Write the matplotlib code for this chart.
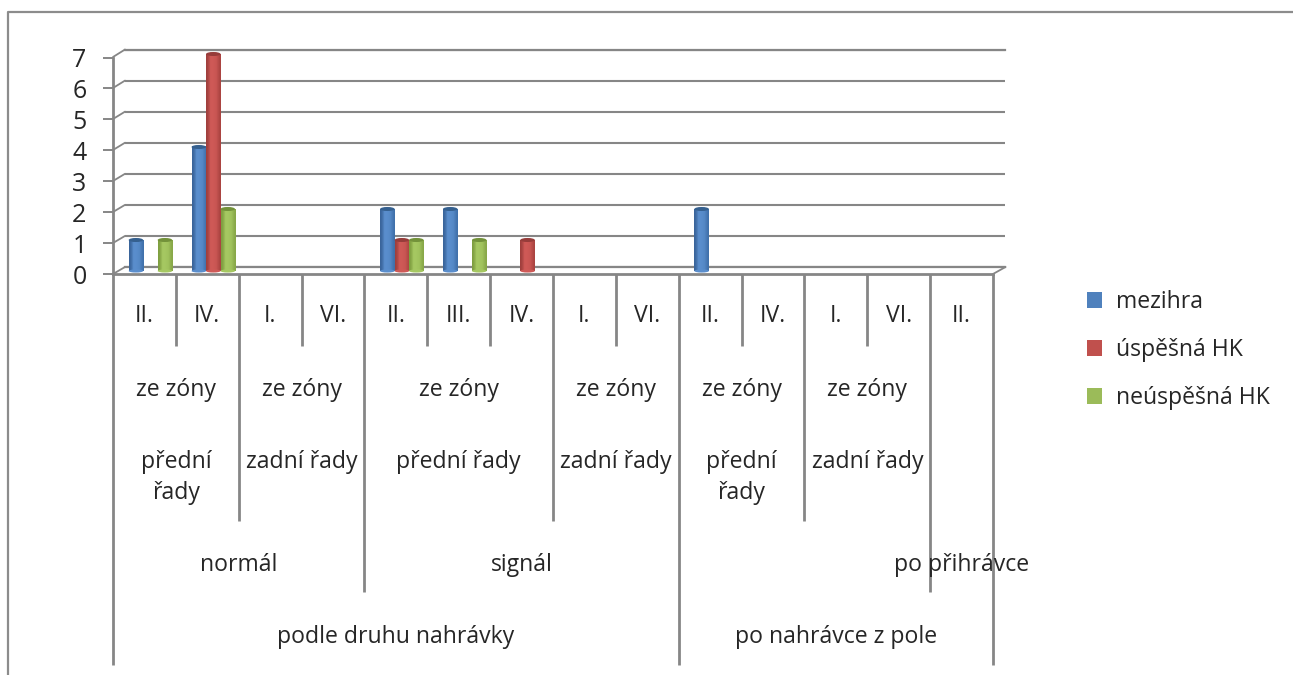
import matplotlib
matplotlib.use("Agg")
import matplotlib.pyplot as plt
from matplotlib.colors import LinearSegmentedColormap
from matplotlib.patches import Ellipse
import numpy as np

W, H = 1293, 675

plt.rcParams['font.family'] = ['Open Sans', 'DejaVu Sans']

# data
zones = ["II.", "IV.", "I.", "VI.", "II.", "III.", "IV.", "I.", "VI.", "II.", "IV.", "I.", "VI.", "II."]
mezihra = [1, 4, 0, 0, 2, 2, 0, 0, 0, 2, 0, 0, 0, 0]
uspesna = [0, 7, 0, 0, 1, 0, 1, 0, 0, 0, 0, 0, 0, 0]
neuspesna = [1, 2, 0, 0, 1, 1, 0, 0, 0, 0, 0, 0, 0, 0]
series_names = ["mezihra", "úspěšná HK", "neúspěšná HK"]
y_ticks = [0, 1, 2, 3, 4, 5, 6, 7]

# (label, first category, last category + 1)
level2 = [("ze zóny", 0, 2), ("ze zóny", 2, 4), ("ze zóny", 4, 7), ("ze zóny", 7, 9),
          ("ze zóny", 9, 11), ("ze zóny", 11, 13)]
level3 = [("přední\nřady", 0, 2), ("zadní řady", 2, 4), ("přední řady", 4, 7), ("zadní řady", 7, 9),
          ("přední\nřady", 9, 11), ("zadní řady", 11, 13)]
level4 = [("normál", 0, 4), ("signál", 4, 9), ("po přihrávce", 13, 14)]
level5 = [("podle druhu nahrávky", 0, 9), ("po nahrávce z pole", 9, 14)]

# how far down each divider runs (pixels)
divider_ends = {0: 665, 1: 346, 2: 521, 3: 346, 4: 592, 5: 346, 6: 346, 7: 521, 8: 346,
                9: 665, 10: 346, 11: 521, 12: 346, 13: 592, 14: 665}

GREY = "#868686"
TEXT = "#262626"
FS = 16.6


def make_axes(left, right, top, bottom):
    return fig.add_axes([left / W, 1 - bottom / H, (right - left) / W, (bottom - top) / H])


fig = plt.figure(figsize=(W / 100, H / 100), dpi=100, facecolor="white")

# outer frame of the picture
fig.add_artist(plt.Line2D([8 / W, 8 / W, 1], [0, 1 - 12 / H, 1 - 12 / H], color="#8c8c8c", lw=1.6))

# back wall with the gridlines
back = make_axes(125, 1005.5, 49.5, 267)
back.set_xlim(0, 14)
back.set_ylim(0, 7)
back.set_yticks(y_ticks)
back.set_xticks([])
back.tick_params(left=False, labelleft=False)
back.grid(True, axis="y", color=GREY, lw=1.5)
for s in back.spines.values():
    s.set_visible(False)
back.set_axisbelow(True)
back.axhline(0, color=GREY, lw=1.6, clip_on=False)
back.axhline(7, color=GREY, lw=1.6, clip_on=False)

# front plane: axis lines, tick labels, category labels
front = make_axes(113, 993, 57.5, 274)
front.set_xlim(0, 14)
front.set_ylim(0, 7)
front.patch.set_alpha(0)
front.set_yticks(y_ticks)
front.set_xticks([])
front.tick_params(axis="y", length=7, width=1.4, color=GREY, pad=12, labelsize=18, labelcolor=TEXT)
for name in ["top", "right"]:
    front.spines[name].set_visible(False)
for name in ["left", "bottom"]:
    front.spines[name].set_color(GREY)
    front.spines[name].set_linewidth(2.0)

# side wall and floor diagonals
for v in y_ticks:
    front.annotate("", xy=(125, H - (267 - v * 31.07)), xycoords="figure pixels",
                   xytext=(113, H - (274 - v * 31.0)), textcoords="figure pixels",
                   arrowprops=dict(arrowstyle="-", color=GREY, lw=1.3, shrinkA=0, shrinkB=0))
front.annotate("", xy=(1005.5, H - 267), xycoords="figure pixels",
               xytext=(993, H - 274), textcoords="figure pixels",
               arrowprops=dict(arrowstyle="-", color=GREY, lw=1.3, shrinkA=0, shrinkB=0))


def py(y):
    # pixel row -> axes fraction of the front plane
    return (274 - y) / (274 - 57.5)


xt = front.get_xaxis_transform()
for i, end in divider_ends.items():
    front.plot([i, i], [0, py(end)], transform=xt, color=GREY, lw=2.0, clip_on=False,
               solid_capstyle="butt")

for i, z in enumerate(zones):
    front.text(i + 0.5, py(316), z, transform=xt, ha="center", va="center", fontsize=FS, color=TEXT)

for lab, a, b in level2:
    front.text((a + b) / 2, py(390), lab, transform=xt, ha="center", va="center", fontsize=FS, color=TEXT)
for lab, a, b in level3:
    if "\n" in lab:
        l1, l2 = lab.split("\n")
        front.text((a + b) / 2, py(462), l1, transform=xt, ha="center", va="center", fontsize=FS, color=TEXT)
        front.text((a + b) / 2, py(493), l2, transform=xt, ha="center", va="center", fontsize=FS, color=TEXT)
    else:
        front.text((a + b) / 2, py(462), lab, transform=xt, ha="center", va="center", fontsize=FS, color=TEXT)
for lab, a, b in level4:
    front.text((a + b) / 2, py(565), lab, transform=xt, ha="center", va="center", fontsize=FS, color=TEXT)
for lab, a, b in level5:
    front.text((a + b) / 2, py(637), lab, transform=xt, ha="center", va="center", fontsize=FS, color=TEXT)

# bars sit on a plane between the front and the back wall
ax = make_axes(119, 999, 54, 271)
ax.set_xlim(0, 14)
ax.set_ylim(0, 7)
ax.axis("off")

colors = ["#4f81bd", "#c0504d", "#9bbb59"]
shades = [("#3a659b", "#5a8ecd", "#4071ab"), ("#a03f3d", "#cf5a57", "#ab4441"), ("#7f9f40", "#a6c862", "#88a848")]
caps = ["#35608f", "#963c3a", "#73923a"]
bar_w = 14.5 / (880 / 14)
x = np.arange(len(zones)) + 0.5
handles = []
grad = np.array([[0.0, 0.2, 0.5, 0.5, 0.55, 0.6, 0.8, 1.0]])

for k, vals in enumerate([mezihra, uspesna, neuspesna]):
    pos = x + (k - 1) * bar_w
    nonzero = [v if v > 0 else np.nan for v in vals]
    bars = ax.bar(pos, nonzero, bar_w, color=colors[k], label=series_names[k], lw=0, zorder=3)
    handles.append(bars)
    cmap = LinearSegmentedColormap.from_list("s", [shades[k][0], shades[k][1], shades[k][2]])
    for p, v in zip(pos, vals):
        if v <= 0:
            continue
        ax.imshow(grad, cmap=cmap, extent=(p - bar_w / 2, p + bar_w / 2, 0, v), aspect="auto",
                  interpolation="bilinear", zorder=3 + k * 0.1, vmin=0, vmax=1)
        ax.add_patch(Ellipse((p, 0), bar_w, 0.1, color=shades[k][1], lw=0, zorder=3 + k * 0.1, clip_on=False))
        ax.add_patch(Ellipse((p, v), bar_w, 0.13, color=caps[k], lw=0, zorder=3.05 + k * 0.1, clip_on=False))
ax.set_xlim(0, 14)
ax.set_ylim(0, 7)

fig.legend(handles=handles, labels=series_names, loc="upper left",
           bbox_to_anchor=(1080 / W, 1 - 283 / H), frameon=False, fontsize=FS, labelcolor=TEXT,
           handlelength=0.66, handleheight=0.66, handletextpad=0.58, labelspacing=1.05,
           borderpad=0.3, borderaxespad=0)

fig.savefig("out.png", dpi=100, facecolor="white")
